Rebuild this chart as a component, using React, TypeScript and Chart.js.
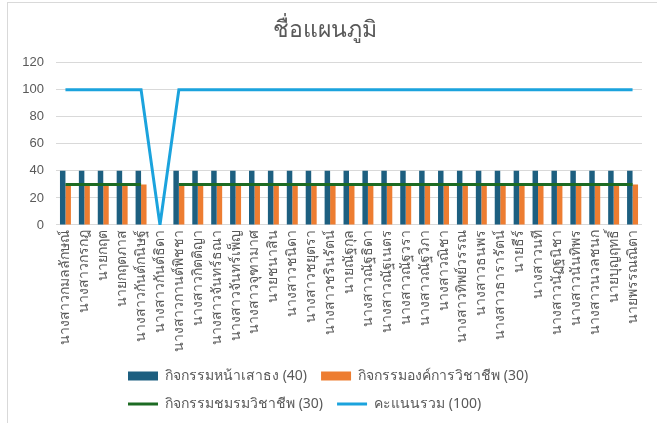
import React, { useEffect, useRef } from "react";
import { Chart, registerables } from "chart.js";

Chart.register(...registerables);

const chartTitle = "ชื่อแผนภูมิ";

const categories = [
  "นางสาวกมลลักษณ์",
  "นางสาวกรกฎ",
  "นายกฤต",
  "นายกฤตภาส",
  "นางสาวกันต์กนิษฐ์",
  "นางสาวกันต์ธิดา",
  "นางสาวกานต์พิชชา",
  "นางสาวกิตติญา",
  "นางสาวจันทร์ธณา",
  "นางสาวจันทร์เพ็ญ",
  "นางสาวจุฑามาศ",
  "นายชนาสิน",
  "นางสาวชนิดา",
  "นางสาวชยุตรา",
  "นางสาวชรินรัตน์",
  "นายณัฐกุล",
  "นางสาวณัฐธิดา",
  "นางสาวณัฐเนตร",
  "นางสาวณัฐวรา",
  "นางสาวณัฐวิภา",
  "นางสาวณิชา",
  "นางสาวทิพย์วรรณ",
  "นางสาวธนพร",
  "นางสาวธารารัตน์",
  "นายธีร์",
  "นางสาวนที",
  "นางสาวนัฏฐนิชา",
  "นางสาวนันทิพร",
  "นางสาวนวลชนก",
  "นายบุญฤทธิ์",
  "นายพรรณณิตา",
];

const seriesNames = [
  "กิจกรรมหน้าเสาธง (40)",
  "กิจกรรมองค์การวิชาชีพ (30)",
  "กิจกรรมชมรมวิชาชีพ (30)",
  "คะแนนรวม (100)",
];

const flagActivity = [
  40, 40, 40, 40, 40, null, 40, 40, 40, 40, 40, 40, 40, 40, 40, 40,
  40, 40, 40, 40, 40, 40, 40, 40, 40, 40, 40, 40, 40, 40, 40,
];

const orgActivity = [
  30, 30, 30, 30, 30, null, 30, 30, 30, 30, 30, 30, 30, 30, 30, 30,
  30, 30, 30, 30, 30, 30, 30, 30, 30, 30, 30, 30, 30, 30, 30,
];

const clubActivity = [
  30, 30, 30, 30, 30, null, 30, 30, 30, 30, 30, 30, 30, 30, 30, 30,
  30, 30, 30, 30, 30, 30, 30, 30, 30, 30, 30, 30, 30, 30, 30,
];

const totalScore = [
  100, 100, 100, 100, 100, 0, 100, 100, 100, 100, 100, 100, 100, 100, 100, 100,
  100, 100, 100, 100, 100, 100, 100, 100, 100, 100, 100, 100, 100, 100, 100,
];

const yTicks = [0, 20, 40, 60, 80, 100, 120];

const FONT = 'Tahoma, "Noto Sans", "DejaVu Sans", sans-serif';

const legendShift = {
  id: "legendShift",
  afterLayout(chart: any) {
    const lg = chart.legend;
    if (!lg) return;
    const left = 107;
    lg.left = left;
    lg.right = left + 480;
  },
};

export default function App() {
  const canvasRef = useRef<HTMLCanvasElement | null>(null);

  useEffect(() => {
    if (!canvasRef.current) return;
    const chart = new Chart(canvasRef.current, {
      type: "bar",
      data: {
        labels: categories,
        datasets: [
          {
            type: "bar",
            label: seriesNames[0],
            data: flagActivity,
            backgroundColor: "#1D5F80",
            borderWidth: 0,
            categoryPercentage: 0.58,
            barPercentage: 1,
            pointStyle: "rect",
            order: 2,
          } as any,
          {
            type: "bar",
            label: seriesNames[1],
            data: orgActivity,
            backgroundColor: "#ED7D31",
            borderWidth: 0,
            categoryPercentage: 0.58,
            barPercentage: 1,
            pointStyle: "rect",
            order: 2,
          } as any,
          {
            type: "line",
            label: seriesNames[2],
            data: clubActivity,
            borderColor: "#1D6B23",
            backgroundColor: "#1D6B23",
            borderWidth: 3,
            pointRadius: 0,
            pointHoverRadius: 0,
            pointStyle: "line",
            spanGaps: false,
            tension: 0,
            order: 1,
          } as any,
          {
            type: "line",
            label: seriesNames[3],
            data: totalScore,
            borderColor: "#1BA3DD",
            backgroundColor: "#1BA3DD",
            borderWidth: 3,
            pointRadius: 0,
            pointHoverRadius: 0,
            pointStyle: "line",
            tension: 0,
            order: 0,
          } as any,
        ],
      },
      options: {
        animation: false,
        responsive: true,
        maintainAspectRatio: false,
        layout: { padding: { left: 0, right: 15, top: 0, bottom: 2 } },
        plugins: {
          title: {
            display: true,
            text: chartTitle,
            color: "#595959",
            font: { family: FONT, size: 23, weight: "normal" },
            padding: { top: 15, bottom: 18 },
          },
          legend: {
            display: true,
            position: "bottom",
            align: "start",
            maxWidth: 480,
            labels: {
              usePointStyle: true,
              pointStyleWidth: 30,
              boxHeight: 9,
              padding: 14,
              color: "#595959",
              font: { family: FONT, size: 14 },
              sort: (a: any, b: any) => a.datasetIndex - b.datasetIndex,
            },
          },
          tooltip: { enabled: false },
        },
        scales: {
          x: {
            grid: { display: false, drawTicks: false },
            border: { display: false },
            ticks: {
              autoSkip: false,
              maxRotation: 90,
              minRotation: 90,
              padding: 5,
              color: "#595959",
              font: { family: FONT, size: 14 },
            },
            afterFit: (s: any) => {
              s.height = 130;
            },
          },
          y: {
            min: 0,
            max: 120,
            afterBuildTicks: (s: any) => {
              s.ticks = yTicks.map((v) => ({ value: v }));
            },
            grid: { color: "#D9D9D9", lineWidth: 1, drawTicks: false },
            border: { display: false },
            ticks: {
              padding: 12,
              color: "#595959",
              font: { family: '"Liberation Sans", Arial, sans-serif', size: 13 },
            },
            afterFit: (s: any) => {
              s.width = 49;
            },
          },
        },
      },
      plugins: [legendShift],
    });
    return () => chart.destroy();
  }, []);

  return (
    <div style={{ position: "fixed", left: 0, top: 0, width: 657, height: 423, background: "#fff", overflow: "hidden" }}>
      <div
        style={{
          position: "absolute",
          left: 7,
          top: 2,
          width: 649,
          height: 420,
          borderLeft: "1px solid #D9D9D9",
          borderTop: "1px solid #D9D9D9",
          pointerEvents: "none",
        }}
      />
      <div style={{ position: "absolute", left: 7, top: 2, width: 650, height: 421 }}>
        <canvas ref={canvasRef} />
      </div>
    </div>
  );
}
